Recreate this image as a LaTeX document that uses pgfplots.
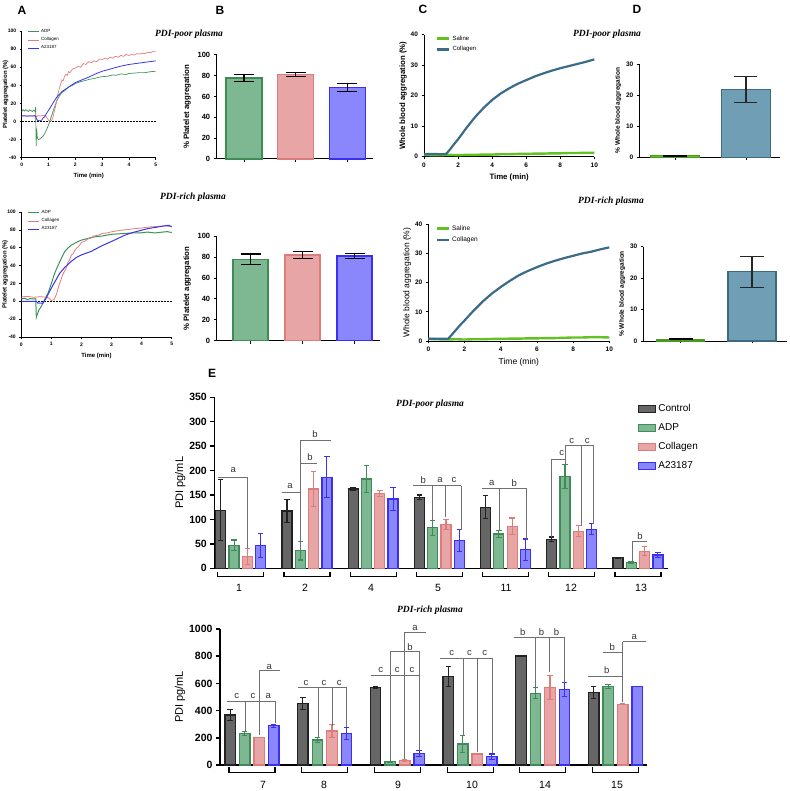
\documentclass[border=0pt]{standalone}
\usepackage{fontspec}
\setmainfont{Liberation Sans}
\newfontfamily\titlefont{Liberation Serif}
\usepackage{pgfplots}
\pgfplotsset{compat=1.18}
\usepackage{pgfplotstable}
\newcommand\fs[1]{\fontsize{#1}{#1}\selectfont}
\definecolor{gfill}{HTML}{7DB892}
\definecolor{gedge}{HTML}{3E8B57}
\definecolor{pfill}{HTML}{E8A5A5}
\definecolor{pedge}{HTML}{DE7B7B}
\definecolor{bfill}{HTML}{8A86FC}
\definecolor{bedge}{HTML}{3A30F2}
\definecolor{cfill}{HTML}{666666}
\definecolor{cedge}{HTML}{222222}
\definecolor{gline}{HTML}{3C9258}
\definecolor{pline}{HTML}{E07C7C}
\definecolor{bline}{HTML}{3535EE}
\definecolor{saline}{HTML}{62C224}
\definecolor{saledge}{HTML}{4A9A1E}
\definecolor{colc}{HTML}{3A6C8A}
\definecolor{dfill}{HTML}{6F9EB5}
\definecolor{dedge}{HTML}{3D6A80}
\definecolor{sig}{HTML}{707070}

\pgfplotsset{
 gp/.style={scale only axis, anchor=south west, axis lines*=left, clip=false,
   tick align=outside, /pgf/number format/assume math mode=true,
   /pgf/number format/1000 sep={},
   axis line style={black}, tick style={black}},
 smallA/.style={ticklabel style={font=\bfseries\fs{5}}, label style={font=\bfseries\fs{6}},
   axis line style={line width=0.5pt}, tick style={line width=0.5pt}, major tick length=2pt,
   legend style={at={(0.04,1.03)}, anchor=north west, draw=none, fill=none, font=\fs{4.5},
     inner sep=0pt, row sep=-0.5pt, legend cell align=left},
   legend image code/.code={\draw[##1] (0pt,0pt) -- (11pt,0pt);}},
 medB/.style={ticklabel style={font=\bfseries\fs{7.5}}, label style={font=\bfseries\fs{7.8}},
   axis line style={line width=1pt}, tick style={line width=1pt}, major tick length=3pt,
   xticklabels={}, ytick={0,20,40,60,80,100}, ymin=0, ymax=100},
 bbar/.style n args={5}{ybar, bar width=#4, bar shift=0pt, fill=#1, draw=#2, line width=1.3pt,
   error bars/.cd, y dir=both, y explicit, error bar style={#3, line width=1.1pt},
   error mark options={rotate=90, mark size=#5, #3, line width=1.1pt}},
}

\pgfplotstableread{
v e
119 62
117 24
162 3
145 5
125 24
59 5
22 1
}\EtCtrl
\pgfplotstableread{
v e
47 11
36 19
183 27
83 15
70 7
188 24
12 2
}\EtADP
\pgfplotstableread{
v e
24 17
162 36
153 6
90 10
86 17
76 11
35 9
}\EtCol
\pgfplotstableread{
v e
47 25
186 42
142 23
57 23
38 22
80 11
27 5
}\EtA
\pgfplotstableread{
v e
368 43
453 45
571 8
650 75
801 3
532 43
}\EbCtrl
\pgfplotstableread{
v e
233 15
184 20
25 3
154 63
527 40
576 15
}\EbADP
\pgfplotstableread{
v e
203 0
250 45
34 5
81 5
569 90
446 3
}\EbCol
\pgfplotstableread{
v e
289 10
233 45
86 22
61 20
556 50
576 0
}\EbA

\begin{document}
\begin{tikzpicture}[x=1pt,y=1pt]
\useasboundingbox (0,0) rectangle (789,791);

% ---------- A top
\begin{axis}[gp, smallA, at={(21.7pt,633.3pt)}, width=134pt, height=126.7pt,
  xmin=0, xmax=5, ymin=-40, ymax=100, xtick={0,1,2,3,4,5}, ytick={-40,-20,0,20,40,60,80,100},
  xlabel={Time (min)}, ylabel={Platelet aggregation (\%)},
  ylabel style={at={(axis description cs:-0.12,0.5)}, anchor=center}]
\addplot[black, densely dotted, line width=0.5pt, forget plot] coordinates {(0,0)(5,0)};
\addplot[gline, line width=0.7pt] coordinates {(0,11)(0.05,13)(0.1,11.5)(0.15,13)(0.2,12)(0.25,11)(0.3,13)(0.35,12)(0.4,11)(0.45,12.5)(0.5,11)(0.52,16)(0.54,-27)(0.56,-8)(0.58,-18)(0.62,-20)(0.7,-19)(0.8,-16)(0.9,-11)(1.0,-4)(1.1,5)(1.2,14)(1.3,22)(1.4,28)(1.5,32)(1.6,34)(1.75,38)(1.9,40)(2.0,42)(2.2,44)(2.4,45.5)(2.5,46.5)(2.7,47.5)(2.9,49)(3.0,49.5)(3.2,50)(3.4,51.5)(3.5,51)(3.7,52.5)(3.9,52)(4.0,53)(4.2,53.5)(4.4,54)(4.6,54)(4.8,55)(5.0,55.5)};
\addlegendentry{ADP}
\addplot[pline, line width=0.7pt] coordinates {(0,6)(0.1,7)(0.2,5.5)(0.3,6.5)(0.4,6)(0.5,6.8)(0.55,5)(0.6,6.5)(0.7,6)(0.8,6.8)(0.9,6)(0.95,4)(1.0,1.5)(1.05,0.3)(1.1,0.5)(1.15,3)(1.2,9)(1.25,15)(1.3,22)(1.35,30)(1.4,36)(1.45,41)(1.5,46)(1.55,45)(1.6,50)(1.65,52)(1.7,51)(1.75,55)(1.8,54)(1.9,58)(2.0,59)(2.1,61)(2.2,60)(2.3,64)(2.4,63)(2.5,66)(2.6,65)(2.7,67)(2.8,66)(2.9,69)(3.0,68.5)(3.1,70)(3.2,69)(3.3,71)(3.4,70)(3.5,72)(3.6,71)(3.7,73)(3.8,72)(3.9,74)(4.0,73)(4.1,74)(4.2,73.5)(4.3,75)(4.4,74.5)(4.5,75.5)(4.6,75)(4.7,76.5)(4.8,76)(4.9,77.5)(5.0,77.5)};
\addlegendentry{Collagen}
\addplot[bline, line width=0.8pt] coordinates {(0,6)(0.5,6.2)(0.55,3)(0.6,1)(0.7,0.8)(0.75,1.5)(0.8,4)(0.85,5)(0.94,9.6)(1.06,15)(1.18,21)(1.31,27)(1.5,33)(1.75,38)(2.0,43)(2.25,46)(2.5,49)(2.75,52.5)(3.0,55.5)(3.25,57.5)(3.5,59.6)(3.75,61.5)(4.0,63)(4.25,64)(4.5,65)(4.75,66)(5.0,67)};
\addlegendentry{A23187}
\end{axis}

% ---------- A bottom
\begin{axis}[gp, smallA, at={(21.3pt,454pt)}, width=150.4pt, height=125pt,
  xmin=0, xmax=5, ymin=-40, ymax=100, xtick={0,1,2,3,4,5}, ytick={-40,-20,0,20,40,60,80,100},
  xlabel={Time (min)}, ylabel={Platelet aggregation (\%)},
  ylabel style={at={(axis description cs:-0.107,0.5)}, anchor=center}]
\addplot[black, densely dotted, line width=0.5pt, forget plot] coordinates {(0,0)(5,0)};
\addplot[gline, line width=1pt] coordinates {(0,2.6)(0.1,3.5)(0.2,2)(0.3,3)(0.4,2.5)(0.48,3)(0.5,-18)(0.53,-15)(0.58,-10)(0.67,-5.5)(0.78,2)(0.89,9)(1.0,20)(1.11,31.5)(1.22,40)(1.33,48)(1.44,55.5)(1.56,60)(1.67,63)(1.78,65)(1.89,67)(2.0,68.5)(2.17,70)(2.33,71.5)(2.5,72.5)(2.67,73)(2.83,74)(3.0,75)(3.22,75.5)(3.44,76)(3.7,76.5)(4.0,76.7)(4.2,77.5)(4.44,76.5)(4.7,77.5)(4.85,78)(5.0,77)};
\addlegendentry{ADP}
\addplot[pline, line width=0.8pt] coordinates {(0,4.8)(0.2,5.5)(0.4,4.5)(0.6,5)(0.8,4.8)(0.9,4)(1.0,0.7)(1.09,2)(1.17,8)(1.24,16.7)(1.33,25)(1.38,30)(1.44,34)(1.5,38)(1.56,44)(1.6,46)(1.67,52)(1.72,53)(1.78,57)(1.85,60)(1.9,61)(2.0,66)(2.1,67)(2.22,70)(2.3,70.5)(2.4,73)(2.56,74)(2.7,76)(2.85,76.5)(3.0,77.8)(3.2,79)(3.44,80)(3.6,80.5)(3.8,81.5)(4.0,82)(4.2,83)(4.44,83.7)(4.6,84)(4.8,84.5)(5.0,83.3)};
\addlegendentry{Collagen}
\addplot[bline, line width=1pt] coordinates {(0,0)(0.5,0)(0.56,-2.2)(0.72,-2.2)(0.83,3.7)(0.94,11)(1.06,18.5)(1.17,25)(1.28,31.5)(1.44,37.8)(1.67,45)(1.83,49)(2.0,52)(2.17,54)(2.33,56)(2.5,59)(2.67,62)(2.83,64.5)(3.0,67)(3.22,70.5)(3.44,74)(3.7,77)(4.0,79.6)(4.22,81.5)(4.44,82.6)(4.67,84)(4.89,85)(5.0,83.7)};
\addlegendentry{A23187}
\end{axis}

% ---------- B top
\begin{axis}[gp, medB, at={(216.7pt,632pt)}, width=156.3pt, height=104pt,
  xmin=0.47, xmax=3.5, xtick={1,2,3}, ylabel={\% Platelet aggregation}]
\addplot[bbar={gfill}{gedge}{black}{36pt}{10pt}] coordinates {(1,78) +- (0,3.5)};
\addplot[bbar={pfill}{pedge}{black}{36pt}{10pt}] coordinates {(2,81) +- (0,2)};
\addplot[bbar={bfill}{bedge}{black}{36pt}{10pt}] coordinates {(3,69) +- (0,4)};
\end{axis}

% ---------- B bottom
\begin{axis}[gp, medB, at={(216.7pt,450.3pt)}, width=163.3pt, height=104.4pt,
  xmin=0.35, xmax=3.49, xtick={1,2,3}, ylabel={\% Platelet aggregation}]
\addplot[bbar={gfill}{gedge}{black}{35pt}{10pt}] coordinates {(1,78) +- (0,5)};
\addplot[bbar={pfill}{pedge}{black}{35pt}{10pt}] coordinates {(2,82) +- (0,3)};
\addplot[bbar={bfill}{bedge}{black}{35pt}{10pt}] coordinates {(3,81) +- (0,2.5)};
\end{axis}

% ---------- C top
\begin{axis}[gp, at={(424pt,634.3pt)}, width=170.3pt, height=122pt,
  xmin=0, xmax=10, ymin=0, ymax=40, xtick={0,2,4,6,8,10}, ytick={0,10,20,30,40},
  ticklabel style={font=\bfseries\fs{6.5}}, label style={font=\bfseries\fs{7.8}},
  axis line style={line width=0.8pt}, tick style={line width=0.8pt}, major tick length=2.5pt,
  xlabel={Time (min)}, ylabel={Whole blood aggregation (\%)}, ylabel shift=-3pt,
  legend style={at={(0.07,1.01)}, anchor=north west, draw=none, fill=none, font=\fs{6},
     inner sep=0pt, row sep=1pt, legend cell align=left},
  legend image code/.code={\draw[#1] (0pt,0pt) -- (12pt,0pt);}]
\addplot[saline, line width=2.4pt] coordinates {(0,0.6)(0.5,0.5)(1,0.5)(1.5,0.6)(2,0.5)(2.5,0.6)(3,0.6)(3.5,0.7)(4,0.7)(4.5,0.8)(5,0.8)(5.5,0.9)(6,0.9)(6.5,1.0)(7,1.0)(7.5,1.1)(8,1.1)(8.5,1.2)(9,1.2)(9.5,1.3)(10,1.3)};
\addlegendentry{Saline}
\addplot[colc, line width=2.2pt] coordinates {(0,0.8)(0.5,0.9)(1,0.8)(1.3,0.9)(1.5,2.2)(1.75,4)(2,5.7)(2.5,9.5)(3,13)(3.5,16)(4,18.6)(4.5,20.7)(5,22.4)(5.5,23.9)(6,25.1)(6.5,26.3)(7,27.3)(7.5,28.2)(8,29)(8.5,29.7)(9,30.4)(9.5,31.1)(10,31.9)};
\addlegendentry{Collagen}
\end{axis}

% ---------- C bottom
\begin{axis}[gp, at={(428.3pt,450pt)}, width=181pt, height=116.7pt,
  xmin=0, xmax=10, ymin=0, ymax=40, xtick={0,2,4,6,8,10}, ytick={0,10,20,30,40},
  ticklabel style={font=\bfseries\fs{6.5}}, label style={font=\fs{8.5}},
  axis line style={line width=0.8pt}, tick style={line width=0.8pt}, major tick length=2.5pt,
  xlabel={Time (min)}, ylabel={Whole blood aggregation (\%)}, ylabel shift=-3pt,
  legend style={at={(0.04,1.01)}, anchor=north west, draw=none, fill=none, font=\fs{6.5},
     inner sep=0pt, row sep=1pt, legend cell align=left},
  legend image code/.code={\draw[#1] (0pt,0pt) -- (12pt,0pt);}]
\addplot[saline, line width=2.4pt] coordinates {(0,0.7)(0.5,0.6)(1,0.5)(1.5,0.6)(2,0.5)(2.5,0.6)(3,0.6)(3.5,0.7)(4,0.7)(4.5,0.8)(5,0.8)(5.5,0.9)(6,0.9)(6.5,1.0)(7,1.0)(7.5,1.1)(8,1.2)(8.5,1.2)(9,1.3)(9.5,1.3)(10,1.2)};
\addlegendentry{Saline}
\addplot[colc, line width=2.2pt] coordinates {(0,0.8)(0.5,0.8)(1.1,0.8)(1.25,1.8)(1.5,3.6)(1.75,5.4)(2,7)(2.5,10.4)(3,13.5)(3.5,16.2)(4,18.5)(4.5,20.6)(5,22.5)(5.5,24)(6,25.3)(6.5,26.5)(7,27.5)(7.5,28.4)(8,29.2)(8.5,30)(9,30.6)(9.5,31.4)(10,32.1)};
\addlegendentry{Collagen}
\end{axis}

% ---------- D top
\begin{axis}[gp, at={(639.3pt,633.7pt)}, width=140.7pt, height=93.3pt,
  xmin=0.496, xmax=2.48, ymin=0, ymax=30, xtick={1,2}, xticklabels={}, ytick={0,10,20,30},
  ticklabel style={font=\bfseries\fs{6.5}}, label style={font=\bfseries\fs{6.5}},
  axis line style={line width=0.8pt}, tick style={line width=0.8pt}, major tick length=2.5pt,
  ylabel={\% Whole blood aggregation}, ylabel shift=-2pt]
\addplot[bbar={saline}{saledge}{black}{48.5pt}{12pt}] coordinates {(1,0.5) +- (0,0.15)};
\addplot[bbar={dfill}{dedge}{black!85}{48.5pt}{11.5pt}] coordinates {(2,21.8) +- (0,4.1)};
\end{axis}

% ---------- D bottom
\begin{axis}[gp, at={(643.3pt,450pt)}, width=143.4pt, height=94.3pt,
  xmin=0.473, xmax=2.487, ymin=0, ymax=30, xtick={1,2}, xticklabels={}, ytick={0,10,20,30},
  ticklabel style={font=\bfseries\fs{6.5}}, label style={font=\bfseries\fs{6.5}},
  axis line style={line width=0.8pt}, tick style={line width=0.8pt}, major tick length=2.5pt,
  ylabel={\% Whole blood aggregation}, ylabel shift=-2pt]
\addplot[bbar={saline}{saledge}{black}{48pt}{12pt}] coordinates {(1,0.5) +- (0,0.15)};
\addplot[bbar={dfill}{dedge}{black!85}{48pt}{12pt}] coordinates {(2,22) +- (0,4.9)};
\end{axis}

% ---------- E top
\begin{axis}[gp, at={(214.3pt,222.7pt)}, width=454pt, height=171pt,
  xmin=-0.4, xmax=6.46, ymin=0, ymax=350, xtick=\empty, ytick={0,50,100,150,200,250,300,350},
  ticklabel style={font=\bfseries\fs{10.5}}, label style={font=\fs{11}},
  axis line style={line width=1.5pt}, tick style={line width=1.5pt}, major tick length=4pt,
  ylabel={PDI pg/mL}, ylabel shift=-3pt,
  legend style={at={(0.933,0.972)}, anchor=north west, draw=none, fill=none, font=\fs{10},
     inner sep=0pt, row sep=6.5pt, legend cell align=left},
  legend image code/.code={\draw[#1] (0pt,-3.5pt) rectangle (17pt,3.5pt);}]
\addlegendimage{fill=cfill, draw=cedge, line width=1.3pt}\addlegendentry{Control}
\addlegendimage{fill=gfill, draw=gedge, line width=1.3pt}\addlegendentry{ADP}
\addlegendimage{fill=pfill, draw=pedge, line width=1.3pt}\addlegendentry{Collagen}
\addlegendimage{fill=bfill, draw=bedge, line width=1.3pt}\addlegendentry{A23187}
\addplot[forget plot, bbar={cfill}{cedge}{cedge}{10pt}{2.7pt}] table[x expr=\coordindex-0.302, y=v, y error=e] {\EtCtrl};
\addplot[forget plot, bbar={gfill}{gedge}{gedge}{10pt}{2.7pt}] table[x expr=\coordindex-0.101, y=v, y error=e] {\EtADP};
\addplot[forget plot, bbar={pfill}{pedge}{pedge}{10pt}{2.7pt}] table[x expr=\coordindex+0.101, y=v, y error=e] {\EtCol};
\addplot[forget plot, bbar={bfill}{bedge}{bedge}{10pt}{2.7pt}] table[x expr=\coordindex+0.302, y=v, y error=e] {\EtA};
\end{axis}

% ---------- E bottom
\begin{axis}[gp, at={(220pt,26pt)}, width=426.7pt, height=136pt,
  xmin=-0.44, xmax=5.43, ymin=0, ymax=1000, xtick=\empty, ytick={0,200,400,600,800,1000},
  ticklabel style={font=\bfseries\fs{10.5}}, label style={font=\fs{11}},
  axis line style={line width=1.5pt}, tick style={line width=1.5pt}, major tick length=4pt,
  ylabel={PDI pg/mL}, ylabel shift=-3pt]
\addplot[bbar={cfill}{cedge}{cedge}{10.5pt}{2.7pt}] table[x expr=\coordindex-0.3, y=v, y error=e] {\EbCtrl};
\addplot[bbar={gfill}{gedge}{gedge}{10.5pt}{2.7pt}] table[x expr=\coordindex-0.1, y=v, y error=e] {\EbADP};
\addplot[bbar={pfill}{pedge}{pedge}{10.5pt}{2.7pt}] table[x expr=\coordindex+0.1, y=v, y error=e] {\EbCol};
\addplot[bbar={bfill}{bedge}{bedge}{10.5pt}{2.7pt}] table[x expr=\coordindex+0.3, y=v, y error=e] {\EbA};
\end{axis}

% ---------- annotations (pixel coordinates, y downward)
\begin{scope}[shift={(0pt,791pt)}, x=1pt, y=-1pt]
\node[font=\bfseries\fs{12}] at (22,10) {A};
\node[font=\bfseries\fs{12}] at (220,10) {B};
\node[font=\bfseries\fs{12}] at (423,9) {C};
\node[font=\bfseries\fs{12}] at (637,9) {D};
\node[font=\bfseries\fs{12}] at (212,373) {E};
\begin{scope}[every node/.style={font=\titlefont\bfseries\itshape\fs{9.5}}]
\node at (189,34) {PDI-poor plasma};
\node at (607,34) {PDI-poor plasma};
\node at (193,197) {PDI-rich plasma};
\node at (611,201) {PDI-rich plasma};
\node at (430,404) {PDI-poor plasma};
\node at (430,610) {PDI-rich plasma};
\end{scope}
% group brackets
\foreach \c in {240.7,306.9,373.1,439.3,505.5,571.7,637.9}
  \draw[line width=1.2pt] (\c-23,572) -- (\c-23,576.7) -- (\c+23,576.7) -- (\c+23,572);
\foreach \c in {252,324.7,397.4,470.1,542.8,615.5}
  \draw[line width=1.2pt] (\c-23,767) -- (\c-23,772.7) -- (\c+23,772.7) -- (\c+23,767);
\begin{scope}[every node/.style={font=\fs{10.5}}]
\node at (239,588) {1}; \node at (305,588) {2}; \node at (371,588) {4}; \node at (438,588) {5};
\node at (506,588) {11}; \node at (571,588) {12}; \node at (641,588) {13};
\node at (263,785) {7}; \node at (324,785) {8}; \node at (398,785) {9}; \node at (472,785) {10};
\node at (545,785) {14}; \node at (617,785) {15};
\end{scope}
% significance lines
\begin{scope}[sig, line width=0.8pt]
\draw (218.3,477) -- (247.7,477) -- (247.7,547.7);
\draw (281.7,492.7) -- (300,492.7);
\draw (300,440.7) -- (300,550);
\draw (300,463.3) -- (316.7,463.3);
\draw (300,440.7) -- (331,440.7);
\draw (413.3,485.7) -- (461,485.7);
\draw (432.3,485.7) -- (432.3,523.3);
\draw (445.7,485.7) -- (445.7,516.7);
\draw (461,485.7) -- (461,530);
\draw (481.7,488.3) -- (526.7,488.3);
\draw (499.3,488.3) -- (499.3,530);
\draw (526.7,488.3) -- (526.7,540);
\draw (551,536.7) -- (551,459.3) -- (565,459.3);
\draw (565,445.3) -- (565,465);
\draw (565,445.3) -- (593.3,445.3);
\draw (581,445.3) -- (581,526);
\draw (593.3,445.3) -- (593.3,524);
\draw (646.7,541) -- (632.3,541) -- (632.3,561.7);
% bottom
\draw (226.7,701) -- (275,701);
\draw (245,701) -- (245,730.7);
\draw (275,701) -- (275,723.3);
\draw (259.3,735) -- (259.3,670.7) -- (280,670.7);
\draw (298.3,687.3) -- (346,687.3);
\draw (318.3,687.3) -- (318.3,736.7);
\draw (332.3,687.3) -- (332.3,725.7);
\draw (346,687.3) -- (346,727.3);
\draw (370.7,675) -- (419.3,675);
\draw (390.7,651) -- (390.7,761);
\draw (404,632.3) -- (404,759.3);
\draw (419.3,651) -- (419.3,750);
\draw (390.7,651) -- (419.3,651);
\draw (404,632.3) -- (426,632.3);
\draw (440,658.3) -- (492.7,658.3);
\draw (463.3,658.3) -- (463.3,736);
\draw (477.7,658.3) -- (477.7,751.7);
\draw (492.7,658.3) -- (492.7,753);
\draw (514.3,637.3) -- (564.3,637.3);
\draw (535,637.3) -- (535,688.3);
\draw (549,637.3) -- (549,671.7);
\draw (564.3,637.3) -- (564.3,683.3);
\draw (588.3,676.7) -- (622.7,676.7);
\draw (602.7,652.7) -- (622.7,652.7);
\draw (622.7,641.7) -- (645.7,641.7);
\draw (622.7,641.7) -- (622.7,701.7);
\end{scope}
\begin{scope}[every node/.style={font=\fs{9.5}, text=black!80, inner sep=0pt}]
\node at (233.3,470) {a};
\node at (290,486) {a}; \node at (310,457) {b}; \node at (315,434) {b};
\node at (423.3,480) {b}; \node at (440,480) {a}; \node at (454,480) {c};
\node at (491.7,482.7) {a}; \node at (514.3,482.7) {b};
\node at (561.7,453.3) {c}; \node at (571.7,440.7) {c}; \node at (587.3,440.7) {c};
\node at (640,535.7) {b};
\node at (236.7,696) {c}; \node at (253,696) {c}; \node at (268.3,696) {a};
\node at (269.3,666.5) {a};
\node at (306,682.7) {c}; \node at (324,682.7) {c}; \node at (339.3,682.7) {c};
\node at (380.7,670) {c}; \node at (397.3,670) {c}; \node at (412,670) {c};
\node at (410,646.7) {b}; \node at (415,628) {a};
\node at (451.7,653.3) {c}; \node at (469.5,653.3) {c}; \node at (484.7,653.3) {c};
\node at (522.7,632.3) {b}; \node at (541.5,632.3) {b}; \node at (556.5,632.3) {b};
\node at (606.7,670.5) {b}; \node at (612.3,647.5) {b}; \node at (634.3,636.5) {a};
\end{scope}
\end{scope}
\end{tikzpicture}
\end{document}
